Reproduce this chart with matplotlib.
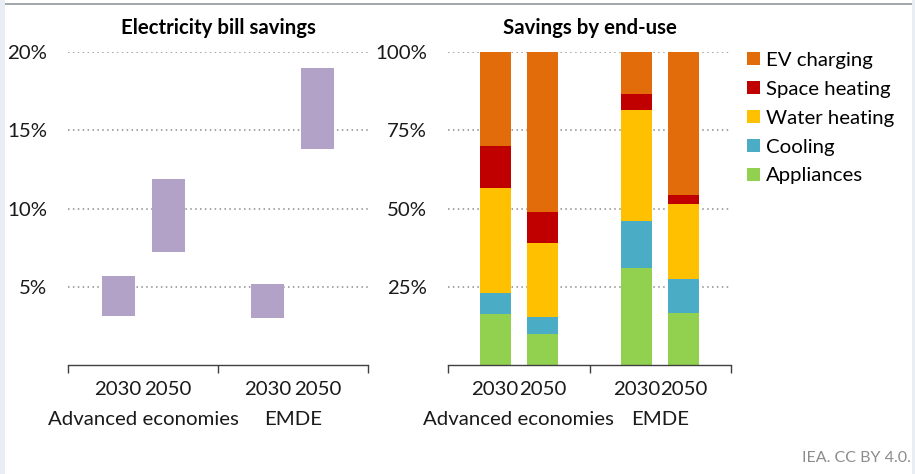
import matplotlib
matplotlib.use("Agg")
import matplotlib.pyplot as plt
from matplotlib.patches import Rectangle
import numpy as np

plt.rcParams['font.family'] = ['Lato', 'DejaVu Sans']

groups = ["Advanced economies", "EMDE"]
years = ["2030", "2050"]

# Electricity bill savings ranges (%)
bill_low = [3.1, 7.2, 3.0, 13.8]
bill_high = [5.7, 11.9, 5.2, 19.0]

# Savings by end-use (share, %), order: AE2030, AE2050, EMDE2030, EMDE2050
enduse_names = ["Appliances", "Cooling", "Water heating", "Space heating", "EV charging"]
appliances = [16.4, 9.9, 31.0, 16.6]
cooling = [6.7, 5.5, 14.9, 10.8]
water_heating = [33.3, 23.7, 35.6, 24.1]
space_heating = [13.7, 9.9, 5.2, 2.9]
ev_charging = [29.9, 51.0, 13.3, 45.6]

colors = {
    "Appliances": "#92D050",
    "Cooling": "#4BACC6",
    "Water heating": "#FFC000",
    "Space heating": "#C00000",
    "EV charging": "#E36C0A",
}
purple = "#B3A2C7"
FS = 14.7

W, H = 915, 474
fig = plt.figure(figsize=(W / 100, H / 100), dpi=100)
fig.patch.set_facecolor("white")

# frame decorations
fig.add_artist(Rectangle((0, 0), 5 / W, 1, transform=fig.transFigure, color="#E8EEF3", lw=0))
fig.add_artist(Rectangle((1 - 3 / W, 0), 3 / W, 1, transform=fig.transFigure, color="#E8EEF3", lw=0))
fig.add_artist(Rectangle((5 / W, 1 - 5 / H), (W - 8) / W, 2 / H, transform=fig.transFigure,
                         color="#A3A8AD", lw=0))

def px_axes(x0, x1, ytop, ybot):
    return fig.add_axes([x0 / W, 1 - ybot / H, (x1 - x0) / W, (ybot - ytop) / H])

ax1 = px_axes(68, 368, 52, 365)
ax2 = px_axes(448, 731, 52, 365)

cats = [(g, y) for g in groups for y in years]
xpos = []
for gi in range(len(groups)):
    for yi in range(len(years)):
        xpos.append(gi + 0.5 + (yi - 0.5) / 3)
xpos = np.array(xpos)
bw = 0.22

def style(ax, ticks, labels):
    ax.set_xlim(0, 2)
    ax.set_facecolor("none")
    for s in ["top", "right", "left"]:
        ax.spines[s].set_visible(False)
    ax.spines["bottom"].set_color("#404040")
    ax.spines["bottom"].set_linewidth(1.0)
    ax.set_yticks(ticks)
    ax.set_yticklabels(labels, fontsize=FS, color="#1a1a1a")
    ax.tick_params(axis="y", length=0, pad=15)
    ax.set_xticks([0, 1, 2])
    ax.set_xticklabels([])
    ax.tick_params(axis="x", length=6, direction="out", color="#404040", width=1.0)
    for t in ticks:
        ax.axhline(t, color="#8C8C8C", ls=(0, (1, 2.2)), lw=1.1, zorder=0)
    for x, (g, y) in zip(xpos, cats):
        ax.text(x, -0.078, y, transform=ax.get_xaxis_transform(), ha="center", va="center",
                fontsize=FS, color="#1a1a1a")
    for gi, g in enumerate(groups):
        ax.text(gi + 0.5, -0.175, g, transform=ax.get_xaxis_transform(), ha="center",
                va="center", fontsize=FS, color="#1a1a1a")

# Left panel
ax1.bar(xpos, np.array(bill_high) - np.array(bill_low), bottom=bill_low, width=bw,
        color=purple, zorder=2)
ax1.set_ylim(0, 20)
style(ax1, [5, 10, 15, 20], ["5%", "10%", "15%", "20%"])
ax1.set_title("Electricity bill savings", fontsize=FS, fontweight="bold", pad=13)

# Right panel
series = [appliances, cooling, water_heating, space_heating, ev_charging]
bottom = np.zeros(len(xpos))
handles = {}
for name, vals in zip(enduse_names, series):
    b = ax2.bar(xpos, vals, bottom=bottom, width=bw, color=colors[name], zorder=2, label=name)
    handles[name] = b
    bottom = bottom + np.array(vals)
ax2.set_ylim(0, 100)
style(ax2, [25, 50, 75, 100], ["25%", "50%", "75%", "100%"])
ax2.set_title("Savings by end-use", fontsize=FS, fontweight="bold", pad=13)

order = ["EV charging", "Space heating", "Water heating", "Cooling", "Appliances"]
fig.legend([handles[n] for n in order], order, loc="upper left",
           bbox_to_anchor=(747 / W, 1 - 52 / H), frameon=False, fontsize=FS,
           handlelength=0.62, handleheight=0.62, handletextpad=0.3, labelspacing=0.58,
           borderaxespad=0, borderpad=0)

fig.text(1 - 4 / W, 1 - 458 / H, "IEA. CC BY 4.0.", ha="right", va="center",
         fontsize=11.5, color="#8C8C8C")

fig.savefig("out.png", dpi=100, facecolor="white")
